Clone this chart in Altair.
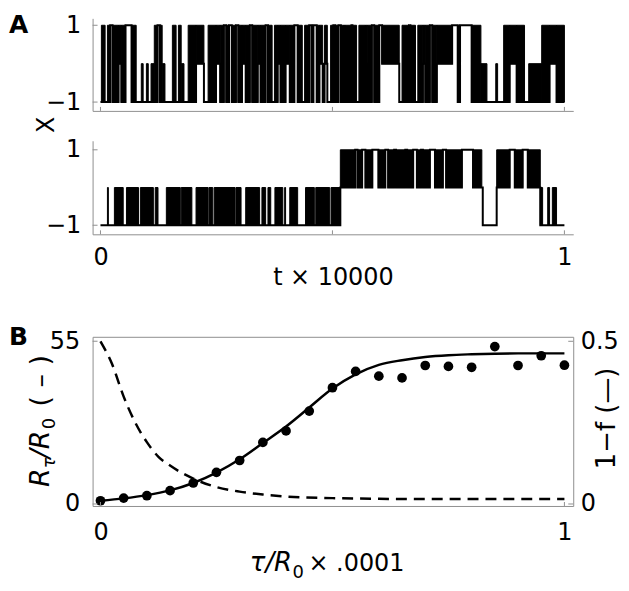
import altair as alt
import pandas as pd

# ---------------- Panel A: two switching signals (segment boundaries in t, level range per segment)
TOP_T = [0.000, 0.002, 0.010, 0.015, 0.021, 0.026, 0.039, 0.045, 0.054, 0.067, 0.077, 0.088, 0.092, 0.099,
         0.103, 0.109, 0.116, 0.123, 0.128, 0.133, 0.139, 0.155, 0.163, 0.168, 0.174, 0.180, 0.189, 0.206,
         0.223, 0.232, 0.249, 0.258, 0.266, 0.271, 0.277, 0.283, 0.292, 0.297, 0.305, 0.313, 0.322, 0.327,
         0.339, 0.345, 0.356, 0.361, 0.370, 0.375, 0.382, 0.388, 0.399, 0.408, 0.418, 0.425, 0.435, 0.440,
         0.450, 0.455, 0.459, 0.466, 0.472, 0.479, 0.483, 0.489, 0.496, 0.502, 0.506, 0.513, 0.518, 0.524,
         0.527, 0.541, 0.543, 0.552, 0.557, 0.571, 0.575, 0.585, 0.590, 0.601, 0.607, 0.644, 0.650, 0.665,
         0.668, 0.679, 0.684, 0.695, 0.700, 0.710, 0.715, 0.725, 0.758, 0.770, 0.775, 0.800, 0.820, 0.833,
         0.852, 0.856, 0.869, 0.882, 0.897, 0.914, 0.923, 0.951, 0.968, 0.983, 1.000]
TOP_LO = [-1, -1, -1, -1, 1, -1, 0, -1, 1, -1,
          -1, -1, -1, -1, -1, -1, -1, 1, -1, -1,
          -1, -1, -1, -1, -1, -1, -1, 0, -1, -1,
          0, -1, 1, -1, 1, -1, 1, -1, 0, -1,
          1, -1, 0, -1, 1, -1, -1, -1, 0, -1,
          0, -1, 1, -1, -1, -1, 1, -1, 1, -1,
          0, -1, 0, -1, -1, 1, -1, 1, -1, 0,
          -1, 1, -1, -1, -1, 0, -1, 1, -1, 1,
          0, -1, -1, 1, -1, -1, -1, 0, -1, 1,
          -1, 0, 1, -1, 1, -1, -1, -1, -1, -1,
          -1, 0, -1, -1, -1, -1, 0, -1]
TOP_HI = [-1, 1, -1, 1, 1, 1, 1, 1, 1, 1,
          -1, 0, -1, 0, -1, 0, 1, 1, 1, 0,
          -1, 1, -1, 1, 0, -1, 1, 1, -1, 1,
          1, 1, 1, 1, 1, 1, 1, 1, 1, 1,
          1, 1, 1, 1, 1, 1, -1, 1, 1, 1,
          1, 1, 1, 1, -1, 1, 1, 1, 1, 1,
          1, -1, 1, -1, 1, 1, 1, 1, 1, 1,
          1, 1, 1, -1, 1, 1, 1, 1, 1, 1,
          1, -1, 1, 1, 1, -1, 1, 1, 1, 1,
          1, 1, 1, 1, 1, 1, 0, -1, 0, -1,
          1, 1, 1, -1, 0, 1, 1, 1]

BOT_T = [0.000, 0.015, 0.017, 0.030, 0.049, 0.056, 0.082, 0.086, 0.114, 0.118, 0.124, 0.142, 0.172, 0.174,
         0.197, 0.206, 0.232, 0.234, 0.242, 0.245, 0.290, 0.292, 0.303, 0.313, 0.343, 0.348, 0.356, 0.361,
         0.367, 0.376, 0.393, 0.397, 0.399, 0.408, 0.425, 0.442, 0.461, 0.464, 0.494, 0.497, 0.517, 0.549,
         0.554, 0.564, 0.571, 0.586, 0.599, 0.614, 0.620, 0.633, 0.637, 0.657, 0.661, 0.674, 0.682, 0.691,
         0.695, 0.710, 0.721, 0.738, 0.745, 0.779, 0.803, 0.822, 0.824, 0.854, 0.882, 0.893, 0.910, 0.921,
         0.948, 0.953, 0.964, 0.968, 0.974, 0.983, 1.000]
BOT_LO = [-1, -1, -1, -1, -1, -1, -1, -1, -1, -1,
          -1, -1, -1, -1, -1, -1, -1, -1, -1, -1,
          -1, -1, -1, -1, -1, -1, -1, -1, -1, -1,
          -1, -1, -1, -1, -1, -1, -1, -1, -1, -1,
          0, 1, 0, 1, 0, 1, 0, 1, 0, 1,
          0, 1, 0, 1, 0, 1, 0, 1, 0, 1,
          0, 1, 0, 0, -1, 0, 1, 0, 1, 0,
          -1, -1, -1, -1, -1, -1]
BOT_HI = [-1, 0, -1, 0, -1, 0, -1, 0, -1, 0,
          -1, 0, -1, 0, -1, 0, -1, 0, -1, 0,
          -1, 0, -1, 0, -1, 0, -1, 0, -1, 0,
          -1, 0, -1, 0, -1, 0, -1, 0, -1, 0,
          1, 1, 1, 1, 1, 1, 1, 1, 1, 1,
          1, 1, 1, 1, 1, 1, 1, 1, 1, 1,
          1, 1, 1, 0, -1, 1, 1, 1, 1, 1,
          0, -1, 0, -1, 0, -1]

# ---------------- Panel B
TAU = [0.00, 0.05, 0.10, 0.15, 0.20, 0.25, 0.30, 0.35, 0.40, 0.45, 0.50,
       0.55, 0.60, 0.65, 0.70, 0.75, 0.80, 0.85, 0.90, 0.95, 1.00]
R_POINTS = [1.1, 2.0, 2.8, 4.5, 7.1, 10.7, 14.7, 20.8, 24.7, 31.4, 39.3,
            44.8, 43.2, 42.6, 46.8, 46.5, 46.2, 53.2, 46.8, 50.1, 46.9]
R_FIT = [1.1, 1.9, 3.0, 4.6, 7.1, 10.6, 15.1, 20.6, 26.2, 32.6, 39.0,
         43.8, 47.0, 48.6, 49.7, 50.3, 50.6, 50.8, 50.9, 50.9, 50.9]
DASH_T = [0.0, 0.025, 0.05, 0.075, 0.1, 0.125, 0.15, 0.2, 0.25, 0.3, 0.35, 0.4, 0.5, 0.6, 0.7, 0.8, 0.9, 1.0]
DASH_V = [0.50, 0.43, 0.33, 0.25, 0.19, 0.145, 0.118, 0.078, 0.052, 0.038, 0.029, 0.023, 0.018, 0.016,
          0.015, 0.015, 0.015, 0.015]

FONT = "DejaVu Sans"
GRAY = "#8f8f8f"
LAB = 24
W = 483
XDOM = [-0.017, 1.019]
dummy = pd.DataFrame({"d": [0]})


def xs():
    return alt.Scale(domain=XDOM, nice=False, zero=False)


def txt(text, x, y, size=24, angle=0, align="left", baseline="alphabetic", style="normal", weight="normal"):
    return alt.Chart(dummy).mark_text(
        text=text, font=FONT, fontSize=size, angle=angle, align=align, baseline=baseline,
        fontStyle=style, fontWeight=weight, color="black"
    ).encode(x=alt.value(x), y=alt.value(y))


def signal_panel(T, LO, HI, ydom, h, xlabels, extra):
    n = min(len(T) - 1, len(LO), len(HI))
    seg = pd.DataFrame({"t0": T[:n], "t1": T[1:n + 1], "lo": LO[:n], "hi": HI[:n]})
    blocks = seg[seg["lo"] < seg["hi"]]
    steps = pd.DataFrame({"t": list(T[:n]) + [T[n]], "v": list(LO[:n]) + [LO[n - 1]]})
    ys = alt.Scale(domain=ydom, nice=False, zero=False)
    xaxis = alt.Axis(values=[0, 1], format="d", labels=xlabels, ticks=False, grid=False, domainColor=GRAY,
                     labelFont=FONT, labelFontSize=LAB, labelColor="black", labelPadding=11,
                     title=None, labelFlush=False)
    yaxis = alt.Axis(values=[-1, 1], labelExpr="datum.value < 0 ? '\u22121' : '1'", ticks=False,
                     grid=False, domainColor=GRAY, labelFont=FONT, labelFontSize=LAB,
                     labelColor="black", labelPadding=12, title=None)
    rect = alt.Chart(blocks).mark_rect(color="black", stroke="black", strokeWidth=1).encode(
        x=alt.X("t0:Q", scale=xs(), axis=xaxis), x2="t1:Q",
        y=alt.Y("lo:Q", scale=ys, axis=yaxis), y2="hi:Q")
    line = alt.Chart(steps).mark_line(interpolate="step-after", color="black", strokeWidth=2).encode(
        x=alt.X("t:Q", scale=xs(), axis=xaxis),
        y=alt.Y("v:Q", scale=ys, axis=yaxis))
    yt = alt.Chart(pd.DataFrame({"v": [-1, 1]})).mark_rule(color=GRAY).encode(
        y=alt.Y("v:Q", scale=ys, axis=yaxis), x=alt.value(0), x2=alt.value(5))
    xt = alt.Chart(pd.DataFrame({"t": [0, 0.5, 1]})).mark_rule(color=GRAY).encode(
        x=alt.X("t:Q", scale=xs(), axis=xaxis), y=alt.value(h - 4), y2=alt.value(h))
    return alt.layer(rect, line, yt, xt, *extra).properties(width=W, height=h)


A1 = signal_panel(TOP_T, TOP_LO, TOP_HI, [-1.23, 1.18], 93, False, [
    txt("A", -84, 15, size=25, weight="bold"),
    txt("X", -46, 107, size=24, angle=270, align="center", baseline="middle"),
])
A2 = signal_panel(BOT_T, BOT_LO, BOT_HI, [-1.24, 1.24], 94, True, [
    txt("t \u00d7 10000", 242, 145, size=24, align="center"),
])

# invisible spacer so that panel B starts at the right height
spacer = alt.Chart(dummy).mark_point(opacity=0).encode(
    x=alt.value(0), y=alt.value(0)).properties(width=W, height=43)

# ---------------- Panel B
HB = 170
yl = alt.Scale(domain=[-0.67, 56.5], nice=False, zero=False)
yr = alt.Scale(domain=[-0.0061, 0.5138], nice=False, zero=False)

bx_axis = alt.Axis(values=[0, 1], format="d", ticks=False, grid=False, domain=False, labelFont=FONT,
                   labelFontSize=LAB, labelColor="black", labelPadding=15, title=None, labelFlush=False)
left_axis = alt.Axis(values=[0, 55], ticks=False, grid=False, domain=False, labelFont=FONT,
                     labelFontSize=LAB, labelColor="black", labelPadding=13, title=None)
right_axis = alt.Axis(values=[0, 0.5], orient="right", labelExpr="datum.value == 0 ? '0' : '0.5'",
                      ticks=False, grid=False, domain=False,
                      labelFont=FONT, labelFontSize=LAB, labelColor="black", labelPadding=7, title=None)

pts = alt.Chart(pd.DataFrame({"tau": TAU, "r": R_POINTS})).mark_circle(size=95, color="black", opacity=1).encode(
    x=alt.X("tau:Q", scale=xs(), axis=bx_axis), y=alt.Y("r:Q", scale=yl, axis=left_axis))
fit = alt.Chart(pd.DataFrame({"tau": TAU, "r": R_FIT})).mark_line(
    interpolate="monotone", color="black", strokeWidth=2.5).encode(
    x=alt.X("tau:Q", scale=xs(), axis=bx_axis), y=alt.Y("r:Q", scale=yl, axis=left_axis))
lt = alt.Chart(pd.DataFrame({"r": [0, 55]})).mark_rule(color=GRAY).encode(
    y=alt.Y("r:Q", scale=yl, axis=left_axis), x=alt.value(0), x2=alt.value(5))
bt = alt.Chart(pd.DataFrame({"tau": [0, 1]})).mark_rule(color=GRAY).encode(
    x=alt.X("tau:Q", scale=xs(), axis=bx_axis), y=alt.value(HB - 4), y2=alt.value(HB))

left_group = alt.layer(
    fit, pts, lt, bt,
    txt("B", -84, 8, size=25, weight="bold"),
    txt("R", -44, 151, size=27, angle=270, style="italic"),
    txt("\u03c4", -38, 132, size=18, angle=270, style="italic"),
    txt("/R", -44, 122, size=27, angle=270, style="italic"),
    txt("0", -38, 93, size=18, angle=270),
    txt("( \u2013 )", -44, 70, size=27, angle=270),
    txt("\u03c4/R", 158, 235, size=26, style="italic"),
    txt("0", 201, 242, size=18),
    txt("\u00d7 .0001", 217, 235, size=24),
    txt("1\u2212f (\u2014)", 525, 133, size=26, angle=270),
)

dash = alt.Chart(pd.DataFrame({"tau": DASH_T, "f": DASH_V})).mark_line(
    interpolate="monotone", color="black", strokeWidth=2.5, strokeDash=[11, 7]).encode(
    x=alt.X("tau:Q", scale=xs(), axis=bx_axis), y=alt.Y("f:Q", scale=yr, axis=right_axis))
rt = alt.Chart(pd.DataFrame({"f": [0, 0.5]})).mark_rule(color=GRAY).encode(
    y=alt.Y("f:Q", scale=yr, axis=right_axis), x=alt.value(W - 5), x2=alt.value(W))
right_group = alt.layer(dash, rt)

B = alt.layer(left_group, right_group).resolve_scale(y="independent").properties(
    width=W, height=HB, view=alt.ViewBackground(stroke=GRAY, strokeWidth=1))

chart = alt.vconcat(A1, A2, spacer, B, spacing=30, bounds="flush").properties(
    padding={"left": 0, "top": 3, "right": 0, "bottom": 0}
).configure_view(stroke=None)

chart.save("out.html", embed_options={"renderer": "svg", "actions": False})
